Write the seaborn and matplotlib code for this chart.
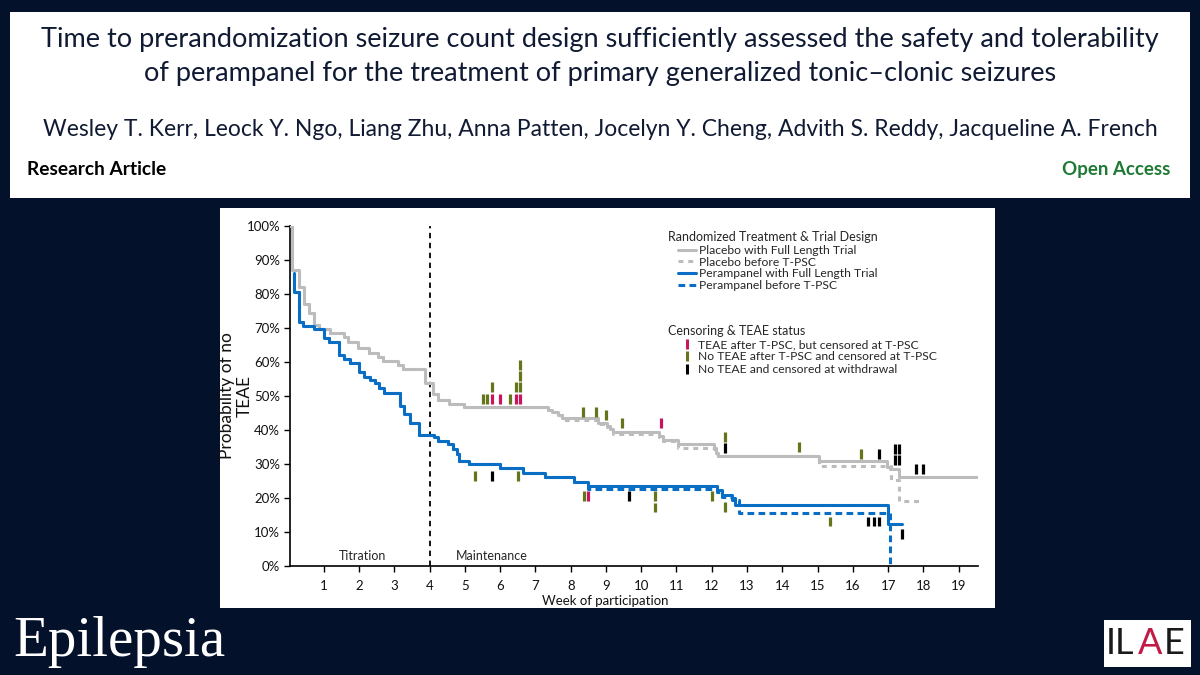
# Kaplan-Meier style plot: time to first TEAE, placebo vs perampanel
import numpy as np
import pandas as pd
import matplotlib.pyplot as plt
import matplotlib.patches as patches
from matplotlib.lines import Line2D
from matplotlib.ticker import FuncFormatter
import seaborn as sns

# step curves: week of participation, % with no TEAE
pbo_full_wk = [0, 0.085, 0.29, 0.43, 0.585, 0.73, 0.87, 1.17, 1.57, 1.69, 1.98, 2.28, 2.54, 2.68,
               3.11, 3.25, 3.87, 4.10, 4.24, 4.56, 4.98, 7.37, 7.47, 7.65, 7.75, 8.78, 9.02, 9.11,
               9.21, 10.49, 10.63, 11.05, 12.05, 12.12, 12.19, 15.03, 16.97, 17.05, 17.30, 19.55]
pbo_full_pct = [100, 87, 82, 77, 74.5, 71, 69.8, 68.6, 67.3, 66, 64, 62.7, 61.5, 60.2,
                59, 57.9, 53.8, 50.6, 48.7, 47.7, 46.8, 45.8, 45.2, 44.4, 43.4, 42.1, 41.3, 40.4,
                39.4, 38.2, 37.2, 35.9, 34.5, 33.3, 32.3, 31.0, 29.0, 28.4, 26.1, 26.1]

pbo_tpsc_wk = [0, 0.085, 0.29, 0.43, 0.585, 0.73, 0.87, 1.17, 1.57, 1.69, 1.98, 2.28, 2.54, 2.68,
               3.11, 3.25, 3.87, 4.10, 4.24, 4.56, 4.98, 7.37, 7.47, 7.65, 7.75, 8.78, 9.02, 9.11,
               9.21, 10.49, 10.63, 11.05, 12.12, 12.19, 15.03, 17.08, 17.32, 17.90]
pbo_tpsc_pct = [100, 87, 82, 77, 74.5, 71, 69.8, 68.6, 67.3, 66, 64, 62.7, 61.5, 60.2,
                59, 57.9, 53.8, 50.6, 48.7, 47.7, 46.8, 45.8, 45.2, 44.4, 42.8, 41.7, 40.9, 40.0,
                38.9, 37.9, 36.9, 34.6, 33.0, 32.3, 29.4, 25.3, 19.0, 19.0]

per_full_wk = [0.15, 0.15, 0.29, 0.41, 0.72, 1.01, 1.14, 1.43, 1.57, 1.74, 2.00, 2.14, 2.31, 2.45,
               2.57, 2.70, 3.16, 3.28, 3.44, 3.71, 4.12, 4.24, 4.53, 4.67, 4.78, 4.84, 5.12, 5.99,
               6.66, 7.27, 8.08, 8.50, 12.14, 12.28, 12.57, 12.66, 17.01, 17.39]
per_full_pct = [86.3, 80.7, 71.9, 70.7, 69.6, 67.0, 65.9, 62.1, 60.8, 59.8, 57.0, 55.6, 54.6, 53.7,
                52.4, 51.0, 47.0, 44.6, 42.0, 38.6, 37.9, 36.9, 35.9, 34.3, 33.0, 31.0, 30.0, 28.9,
                27.4, 26.2, 24.7, 23.4, 22.3, 20.8, 19.9, 18.0, 12.4, 12.4]

per_tpsc_wk = [0.15, 0.15, 0.29, 0.41, 0.72, 1.01, 1.14, 1.43, 1.57, 1.74, 2.00, 2.14, 2.31, 2.45,
               2.57, 2.70, 3.16, 3.28, 3.44, 3.71, 4.12, 4.24, 4.53, 4.67, 4.78, 4.84, 5.12, 5.99,
               6.66, 7.27, 8.08, 8.50, 12.14, 12.28, 12.57, 12.78, 17.06]
per_tpsc_pct = [86.3, 80.7, 71.9, 70.7, 69.6, 67.0, 65.9, 62.1, 60.8, 59.8, 57.0, 55.6, 54.6, 53.7,
                52.4, 51.0, 47.0, 44.6, 42.0, 38.6, 37.9, 36.9, 35.9, 34.3, 33.0, 31.0, 30.0, 28.9,
                27.4, 26.2, 24.7, 22.7, 21.7, 20.2, 19.3, 15.5, 0]

# censoring ticks
teae_after_wk = [5.76, 5.99, 6.45, 6.56, 10.55, 8.50]
teae_after_pct = [49.1, 49.1, 49.1, 49.1, 42.0, 20.6]

no_teae_tpsc_wk = [5.52, 5.64, 5.76, 6.28, 6.45, 6.56, 6.56, 6.56, 8.36, 8.71, 8.99, 9.46, 12.38,
                   14.47, 16.24, 5.30, 6.51, 8.38, 10.39, 10.39, 12.0, 12.38, 15.36]
no_teae_tpsc_pct = [49.1, 49.1, 52.6, 49.1, 52.6, 52.6, 56.0, 59.1, 45.3, 45.3, 44.3, 42.0, 38.0,
                    35.0, 32.9, 26.5, 26.5, 20.6, 20.6, 17.2, 20.6, 17.4, 13.1]

withdrawn_wk = [12.38, 16.75, 17.2, 17.3, 17.2, 17.3, 17.79, 17.99, 5.76, 9.65, 16.44, 16.6, 16.75, 17.39]
withdrawn_pct = [34.7, 32.9, 34.4, 34.4, 31.1, 31.1, 28.6, 28.6, 26.5, 20.6, 13.1, 13.1, 13.1, 9.3]

status_labels = ['TEAE after T-PSC, but censored at T-PSC',
                 'No TEAE after T-PSC and censored at T-PSC',
                 'No TEAE and censored at withdrawal']
line_labels = ['Placebo with Full Length Trial', 'Placebo before T-PSC',
               'Perampanel with Full Length Trial', 'Perampanel before T-PSC']

navy = '#03112a'
gray = '#bcbcbc'
blue = '#0a6fc4'
magenta = '#c8155f'
olive = '#63761c'
status_colors = [magenta, olive, 'black']

censor = pd.DataFrame({
    'week': teae_after_wk + no_teae_tpsc_wk + withdrawn_wk,
    'pct': teae_after_pct + no_teae_tpsc_pct + withdrawn_pct,
    'status': [status_labels[0]] * len(teae_after_wk) + [status_labels[1]] * len(no_teae_tpsc_wk)
              + [status_labels[2]] * len(withdrawn_wk),
})

sns.set_theme(style='ticks')
plt.rcParams['font.family'] = ['Lato', 'DejaVu Sans']

W, H = 1200, 675
fig = plt.figure(figsize=(12, 6.75), dpi=100, facecolor=navy)

# white header and chart panels (drawn behind everything)
fig.add_artist(patches.Rectangle((10 / W, 1 - 198 / H), 1180 / W, 186 / H, transform=fig.transFigure,
                                 facecolor='white', edgecolor='none', zorder=-5))
fig.add_artist(patches.Rectangle((220 / W, 1 - 608 / H), 775 / W, 400 / H, transform=fig.transFigure,
                                 facecolor='white', edgecolor='none', zorder=-5))

fig.text(0.5, 1 - 40 / H, 'Time to prerandomization seizure count design sufficiently assessed the safety and tolerability',
         ha='center', va='center', fontsize=19.5, color='#101a33')
fig.text(0.5, 1 - 73 / H, 'of perampanel for the treatment of primary generalized tonic\u2013clonic seizures',
         ha='center', va='center', fontsize=19.5, color='#101a33')
fig.text(0.5, 1 - 130 / H, 'Wesley T. Kerr, Leock Y. Ngo, Liang Zhu, Anna Patten, Jocelyn Y. Cheng, Advith S. Reddy, Jacqueline A. French',
         ha='center', va='center', fontsize=16.5, color='#101a33')
fig.text(27 / W, 1 - 170 / H, 'Research Article', ha='left', va='center', fontsize=13.8, fontweight='bold', color='black')
fig.text(1170 / W, 1 - 170 / H, 'Open Access', ha='right', va='center', fontsize=13.5, fontweight='bold', color='#1f7a35')

# logos
fig.text(13 / W, 1 - 642 / H, 'Epilepsia', ha='left', va='center', fontsize=41, color='white',
         family=['Liberation Serif', 'DejaVu Serif'])
fig.add_artist(patches.Rectangle((1104 / W, 1 - 667 / H), 87 / W, 47 / H, transform=fig.transFigure,
                                 facecolor='white', edgecolor='none', zorder=-5))
fig.text(1106 / W, 1 - 644 / H, 'IL', ha='left', va='center', fontsize=26, color='#1a1a1a')
fig.text(1138 / W, 1 - 644 / H, 'A', ha='left', va='center', fontsize=26, color='#c01a45')
fig.text(1164 / W, 1 - 644 / H, 'E', ha='left', va='center', fontsize=26, color='#1a1a1a')

ax = fig.add_axes([290 / W, 1 - 566 / H, 688 / W, 340 / H])
ax.set_facecolor('white')

sns.lineplot(x=pbo_tpsc_wk, y=pbo_tpsc_pct, ax=ax, color=gray, linewidth=2.2, linestyle=(0, (1.6, 1.6)),
             drawstyle='steps-post', estimator=None, sort=False, zorder=2)
sns.lineplot(x=pbo_full_wk, y=pbo_full_pct, ax=ax, color=gray, linewidth=2.2,
             drawstyle='steps-post', estimator=None, sort=False, zorder=3)
sns.lineplot(x=per_tpsc_wk, y=per_tpsc_pct, ax=ax, color=blue, linewidth=2.2, linestyle=(0, (2.2, 1.4)),
             drawstyle='steps-post', estimator=None, sort=False, zorder=4)
sns.lineplot(x=per_full_wk, y=per_full_pct, ax=ax, color=blue, linewidth=2.2,
             drawstyle='steps-post', estimator=None, sort=False, zorder=5)

sns.scatterplot(data=censor, x='week', y='pct', hue='status', palette=status_colors, hue_order=status_labels,
                marker='|', s=50, linewidth=2.3, legend=False, ax=ax, zorder=6)

ax.axvline(4, color='black', linewidth=1.3, linestyle=(0, (3, 2.5)), zorder=1)
ax.text(2.1, 3, 'Titration', ha='center', va='center', fontsize=9)
ax.text(4.75, 3, 'Maintenance', ha='left', va='center', fontsize=9)

ax.set_xlim(0.04, 19.55)
ax.set_ylim(0, 100)
ax.set_xticks(range(1, 20))
ax.set_yticks(range(0, 101, 10))
ax.yaxis.set_major_formatter(FuncFormatter(lambda v, p: f'{v:.0f}%'))
ax.tick_params(axis='both', labelsize=9.5, length=4, width=1, color='black', labelcolor='#111111',
               direction='out', pad=3)
ax.tick_params(axis='x', pad=6)
sns.despine(ax=ax)
for s in ['left', 'bottom']:
    ax.spines[s].set_color('black')
    ax.spines[s].set_linewidth(1.2)
ax.set_xlabel('Week of participation', fontsize=9.5, color='#111111')
ax.set_ylabel('Probability of no\nTEAE', fontsize=12.5, color='#111111', linespacing=1.12)
ax.xaxis.set_label_coords(0.458, -0.085)
ax.yaxis.set_label_coords(-0.054, 0.5)

# legends, titles as separate texts so the entries sit indented
fig.text(668 / W, 1 - 237 / H, 'Randomized Treatment & Trial Design', ha='left', va='center', fontsize=9)
line_handles = [Line2D([], [], color=gray, linewidth=2.2),
                Line2D([], [], color=gray, linewidth=2.2, linestyle=(0, (1.6, 1.6))),
                Line2D([], [], color=blue, linewidth=2.2),
                Line2D([], [], color=blue, linewidth=2.2, linestyle=(0, (2.2, 1.4)))]
leg1 = ax.legend(line_handles, line_labels,
                 loc='upper left', bbox_to_anchor=(678 / W, 1 - 245 / H), bbox_transform=fig.transFigure,
                 frameon=False, fontsize=8.7, handlelength=1.45,
                 handletextpad=0.25, labelspacing=0.05, borderpad=0, borderaxespad=0)
ax.add_artist(leg1)

fig.text(668 / W, 1 - 331 / H, 'Censoring & TEAE status', ha='left', va='center', fontsize=9)
mark_handles = [Line2D([], [], color=c, marker='|', linestyle='none', markersize=7, markeredgewidth=2.2)
                for c in status_colors]
ax.legend(mark_handles, status_labels,
          loc='upper left', bbox_to_anchor=(679 / W, 1 - 339 / H), bbox_transform=fig.transFigure,
          frameon=False, fontsize=8.7, handlelength=1.35,
          handletextpad=0.2, labelspacing=0.12, borderpad=0, borderaxespad=0)

fig.savefig('out.png', dpi=100, facecolor=navy)
